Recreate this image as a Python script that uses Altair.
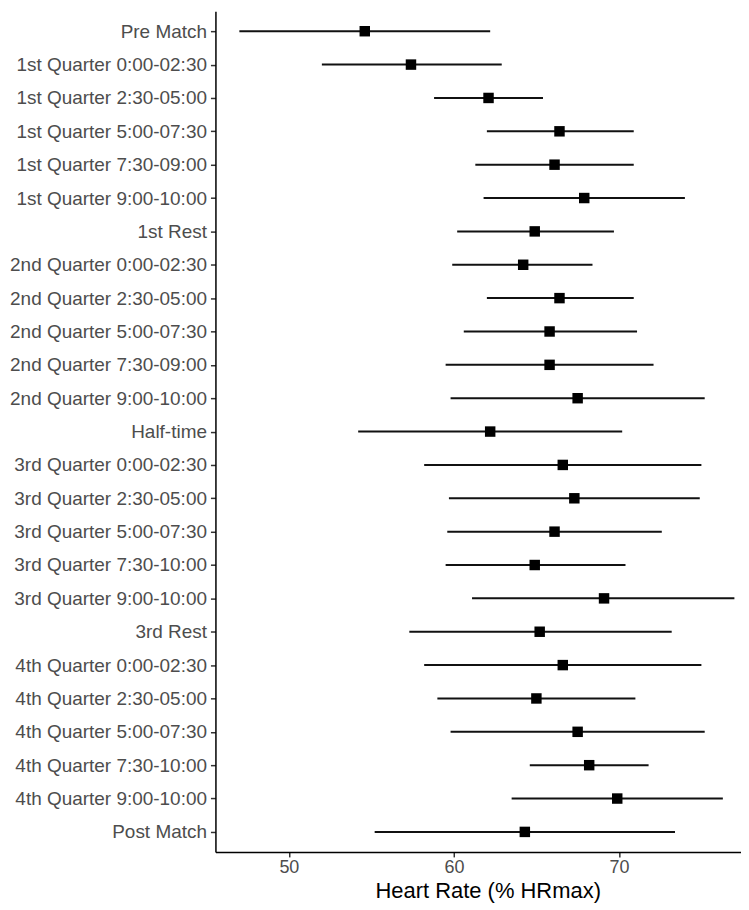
import altair as alt
import pandas as pd

categories = [
    "Pre Match",
    "1st Quarter 0:00-02:30",
    "1st Quarter 2:30-05:00",
    "1st Quarter 5:00-07:30",
    "1st Quarter 7:30-09:00",
    "1st Quarter 9:00-10:00",
    "1st Rest",
    "2nd Quarter 0:00-02:30",
    "2nd Quarter 2:30-05:00",
    "2nd Quarter 5:00-07:30",
    "2nd Quarter 7:30-09:00",
    "2nd Quarter 9:00-10:00",
    "Half-time",
    "3rd Quarter 0:00-02:30",
    "3rd Quarter 2:30-05:00",
    "3rd Quarter 5:00-07:30",
    "3rd Quarter 7:30-10:00",
    "3rd Quarter 9:00-10:00",
    "3rd Rest",
    "4th Quarter 0:00-02:30",
    "4th Quarter 2:30-05:00",
    "4th Quarter 5:00-07:30",
    "4th Quarter 7:30-10:00",
    "4th Quarter 9:00-10:00",
    "Post Match",
]
means = [54.6, 57.4, 62.1, 66.4, 66.1, 67.9, 64.9, 64.2, 66.4, 65.8, 65.8, 67.5, 62.2,
         66.6, 67.3, 66.1, 64.9, 69.1, 65.2, 66.6, 65.0, 67.5, 68.2, 69.9, 64.3]
lows = [47.0, 52.0, 58.8, 62.0, 61.3, 61.8, 60.2, 59.9, 62.0, 60.6, 59.5, 59.8, 54.2,
        58.2, 59.7, 59.6, 59.5, 61.1, 57.3, 58.2, 59.0, 59.8, 64.6, 63.5, 55.2]
highs = [62.2, 62.9, 65.4, 70.9, 70.9, 74.0, 69.7, 68.4, 70.9, 71.1, 72.1, 75.2, 70.2,
         75.0, 74.9, 72.6, 70.4, 77.0, 73.2, 75.0, 71.0, 75.2, 71.8, 76.3, 73.4]
x_ticks = [50, 60, 70]

df = pd.DataFrame({"cat": categories, "mean": means, "low": lows, "high": highs})

FONT = "Liberation Sans"

yenc = alt.Y(
    "cat:N",
    sort=categories,
    scale=alt.Scale(type="point", padding=0.6),
    axis=alt.Axis(
        title=None,
        labelFont=FONT,
        labelFontSize=19,
        labelColor="#4D4D4D",
        labelPadding=4,
        labelLimit=0,
        tickSize=5,
        tickColor="#333333",
        tickWidth=1.5,
        domainColor="black",
        domainWidth=1.5,
        grid=False,
        minExtent=205,
        maxExtent=205,
    ),
)

xscale = alt.Scale(domain=[45.55, 77.4], nice=False, zero=False)
xaxis = alt.Axis(
    values=x_ticks,
    title="Heart Rate (% HRmax)",
    titleFont=FONT,
    titleFontSize=22,
    titleFontWeight="normal",
    titleColor="black",
    titlePadding=4,
    titleX=273,
    labelFont=FONT,
    labelFontSize=18,
    labelColor="#4D4D4D",
    labelPadding=2,
    tickSize=5,
    tickColor="#333333",
    tickWidth=1.5,
    domainColor="black",
    domainWidth=1.5,
    grid=False,
)

rules = alt.Chart(df).mark_rule(color="#111111", strokeWidth=2).encode(
    x=alt.X("low:Q", scale=xscale, axis=xaxis),
    x2="high:Q",
    y=yenc,
)

points = alt.Chart(df).mark_square(size=110, color="black", opacity=1).encode(
    x=alt.X("mean:Q", scale=xscale, axis=xaxis),
    y=yenc,
)

chart = (
    alt.layer(rules, points)
    .properties(width=527, height=843, padding={"left": 1, "top": 2, "right": 0, "bottom": 0})
    .configure_view(stroke=None)
)

chart.save("out.html", embed_options={"renderer": "svg", "actions": False})
